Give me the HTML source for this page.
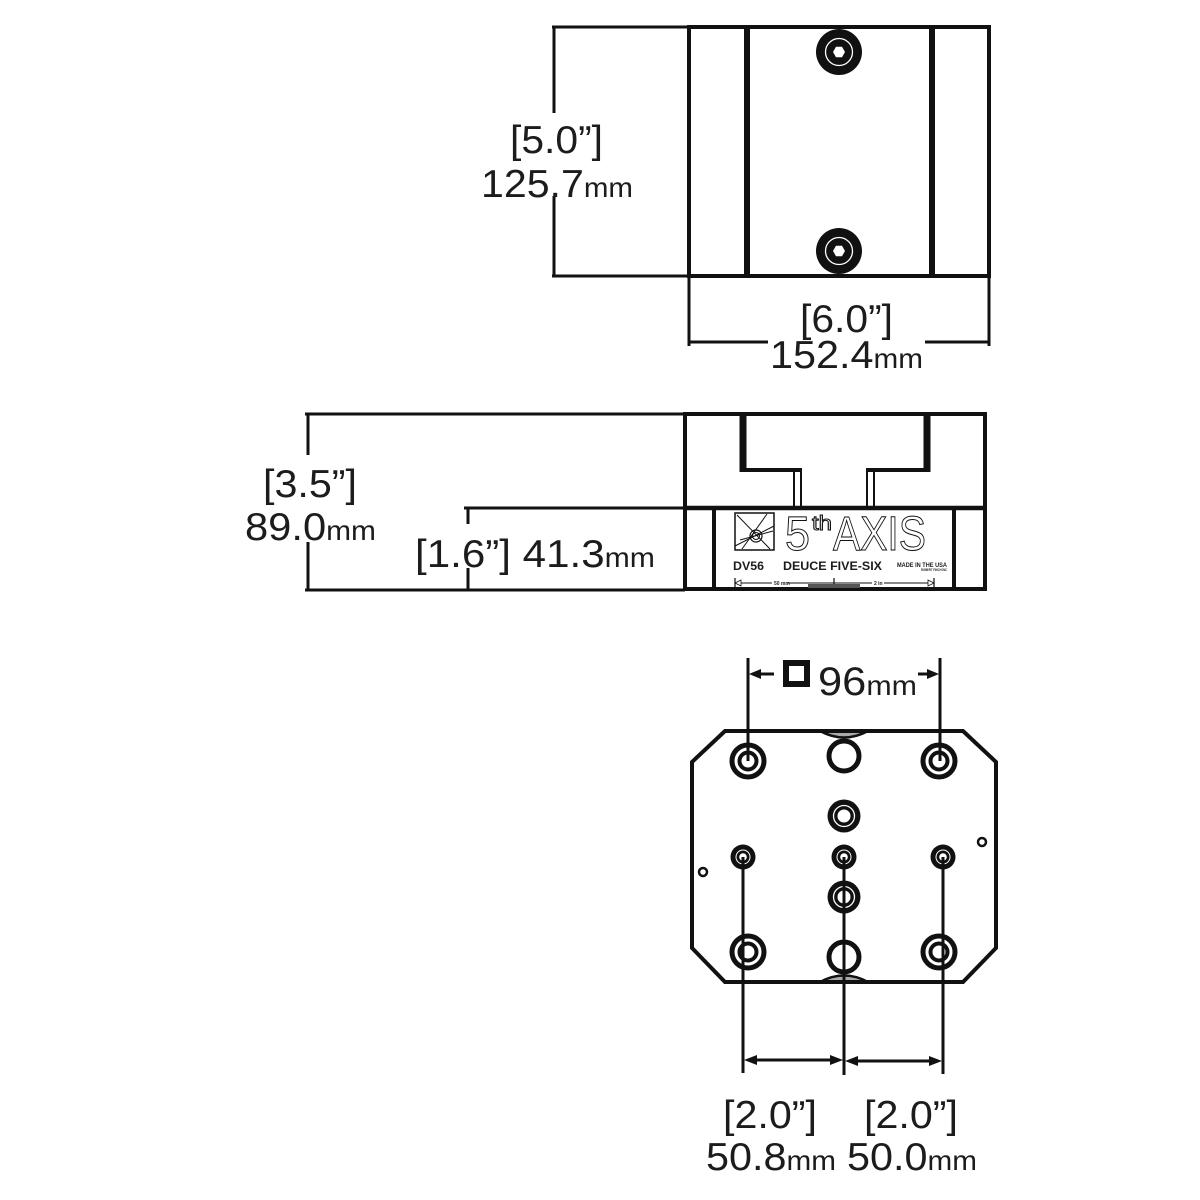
<!DOCTYPE html>
<html><head><meta charset="utf-8"><style>
html,body{margin:0;padding:0;background:#fff;}
svg{display:block;}
text{font-family:"Liberation Sans",sans-serif;fill:#1d1b1c;}
</style></head><body>
<svg width="1200" height="1200" viewBox="0 0 1200 1200" xmlns="http://www.w3.org/2000/svg">
<rect width="1200" height="1200" fill="#fff"/>
<g stroke="#111" fill="none" stroke-linecap="butt">
<!-- ===== TOP VIEW ===== -->
<rect x="689" y="27" width="300" height="249" stroke-width="4"/>
<line x1="747" y1="27" x2="747" y2="276" stroke-width="6"/>
<line x1="932" y1="27" x2="932" y2="276" stroke-width="6"/>
<!-- dim left -->
<line x1="552" y1="27" x2="689" y2="27" stroke-width="3"/>
<line x1="552" y1="276" x2="689" y2="276" stroke-width="3"/>
<line x1="554" y1="27" x2="554" y2="113" stroke-width="3"/>
<line x1="554" y1="196" x2="554" y2="276" stroke-width="3"/>
<!-- dim bottom -->
<line x1="689" y1="276" x2="689" y2="346" stroke-width="3"/>
<line x1="989" y1="276" x2="989" y2="346" stroke-width="3"/>
<line x1="689" y1="342" x2="768" y2="342" stroke-width="3"/>
<line x1="925" y1="342" x2="989" y2="342" stroke-width="3"/>
</g>
<!-- bolts -->
<g>
<circle cx="839" cy="52" r="23" fill="#111"/>
<circle cx="839" cy="52" r="13.5" fill="none" stroke="#fff" stroke-width="1.3"/>
<polygon points="845,52 842,57.2 836,57.2 833,52 836,46.8 842,46.8" fill="#fff"/>
<circle cx="839" cy="251" r="23" fill="#111"/>
<circle cx="839" cy="251" r="13.5" fill="none" stroke="#fff" stroke-width="1.3"/>
<polygon points="845,251 842,256.2 836,256.2 833,251 836,245.8 842,245.8" fill="#fff"/>
</g>
<text x="510" y="153" font-size="39" textLength="93" lengthAdjust="spacingAndGlyphs">[5.0”]</text>
<text x="481" y="197" font-size="39" textLength="152" lengthAdjust="spacingAndGlyphs">125.7<tspan font-size="28">mm</tspan></text>
<text x="800" y="332" font-size="39" textLength="93" lengthAdjust="spacingAndGlyphs">[6.0”]</text>
<text x="770" y="368" font-size="39" textLength="153" lengthAdjust="spacingAndGlyphs">152.4<tspan font-size="28">mm</tspan></text>

<!-- ===== SIDE VIEW ===== -->
<g stroke="#111" fill="none">
<rect x="685" y="414" width="300" height="175" stroke-width="4"/>
<line x1="685" y1="508" x2="985" y2="508" stroke-width="4.5"/>
<line x1="714" y1="508" x2="714" y2="589" stroke-width="4"/>
<line x1="954" y1="508" x2="954" y2="589" stroke-width="4"/>
<!-- T slot -->
<line x1="743" y1="414" x2="743" y2="472" stroke-width="7"/>
<line x1="740" y1="470" x2="801" y2="470" stroke-width="4"/>
<line x1="794" y1="470" x2="794" y2="508" stroke-width="2"/>
<line x1="801" y1="468" x2="801" y2="508" stroke-width="2"/>
<line x1="927" y1="414" x2="927" y2="472" stroke-width="7"/>
<line x1="867" y1="470" x2="930" y2="470" stroke-width="4"/>
<line x1="867" y1="468" x2="867" y2="508" stroke-width="2"/>
<line x1="874" y1="470" x2="874" y2="508" stroke-width="2"/>
<!-- dims -->
<line x1="305" y1="414" x2="685" y2="414" stroke-width="3"/>
<line x1="305" y1="590" x2="685" y2="590" stroke-width="3"/>
<line x1="464" y1="508" x2="685" y2="508" stroke-width="3"/>
<line x1="308" y1="414" x2="308" y2="455" stroke-width="3"/>
<line x1="308" y1="542" x2="308" y2="590" stroke-width="3"/>
<line x1="468" y1="508" x2="468" y2="524" stroke-width="3"/>
<line x1="468" y1="568" x2="468" y2="590" stroke-width="3"/>
<!-- logo box -->
<rect x="735" y="513" width="39" height="37" stroke-width="1.5"/>
<line x1="737" y1="515" x2="770" y2="549" stroke-width="1"/>
<line x1="735" y1="546" x2="774" y2="526" stroke-width="1"/>
<line x1="742" y1="549" x2="767" y2="514" stroke-width="1"/>
<line x1="740" y1="540" x2="773" y2="531" stroke-width="1"/>
<circle cx="756" cy="536" r="6" stroke-width="1.2"/>
<circle cx="756" cy="536" r="3.5" stroke-width="1"/>
<!-- ruler -->
<line x1="736" y1="583" x2="934" y2="583" stroke-width="1"/>
<line x1="735" y1="578" x2="735" y2="588" stroke-width="1.2"/>
<line x1="834" y1="578" x2="834" y2="588" stroke-width="1.2"/>
<line x1="934" y1="578" x2="934" y2="588" stroke-width="1.2"/>
</g>
<path d="M735,583 l6,-3 v6 z M934,583 l-6,-3 v6 z" fill="#fff" stroke="#111" stroke-width="0.8"/>
<rect x="808" y="584" width="52" height="4" fill="#555"/>
<rect x="772" y="580" width="16" height="5" fill="#fff"/>
<rect x="872" y="580" width="12" height="5" fill="#fff"/>
<text x="774" y="585" font-size="5" font-weight="bold">50 mm</text>
<text x="874" y="585" font-size="5" font-weight="bold">2 in</text>
<text x="785" y="550" font-size="48" textLength="25" lengthAdjust="spacingAndGlyphs" style="fill:#fff;stroke:#111;stroke-width:1">5</text>
<text x="812" y="530" font-size="20" textLength="20" lengthAdjust="spacingAndGlyphs" style="fill:#fff;stroke:#111;stroke-width:1">th</text>
<text x="833" y="550" font-size="48" textLength="93" lengthAdjust="spacingAndGlyphs" style="fill:#fff;stroke:#111;stroke-width:1">AXIS</text>
<text x="733" y="570" font-size="12" font-weight="bold" textLength="31" lengthAdjust="spacingAndGlyphs">DV56</text>
<text x="783" y="570" font-size="12" font-weight="bold" textLength="99" lengthAdjust="spacingAndGlyphs">DEUCE FIVE-SIX</text>
<text x="897" y="567" font-size="6" font-weight="bold" textLength="50" lengthAdjust="spacingAndGlyphs">MADE IN THE USA</text>
<text x="921" y="571" font-size="3.5" font-weight="bold" textLength="26" lengthAdjust="spacingAndGlyphs">ROBERT FINCH INC</text>

<text x="263" y="497" font-size="39" textLength="94" lengthAdjust="spacingAndGlyphs">[3.5”]</text>
<text x="245" y="540" font-size="39" textLength="131" lengthAdjust="spacingAndGlyphs">89.0<tspan font-size="28">mm</tspan></text>
<text x="415" y="567" font-size="39" textLength="240" lengthAdjust="spacingAndGlyphs">[1.6”] 41.3<tspan font-size="28">mm</tspan></text>

<!-- ===== BOTTOM VIEW ===== -->
<g stroke="#111" fill="none">
<path d="M820,731 Q844,744 868,731" fill="#aaa" stroke-width="2.5"/>
<path d="M820,982 Q844,969 868,982" fill="#aaa" stroke-width="2.5"/>
<polygon points="725,731 963,731 996,762 996,948 963,982 725,982 692,948 692,762" stroke-width="4" stroke-linejoin="miter"/>
<!-- counterbores -->
<circle cx="748" cy="761" r="16" stroke-width="5"/>
<circle cx="748" cy="761" r="8.5" stroke-width="4"/>
<circle cx="939" cy="761" r="16" stroke-width="5"/>
<circle cx="939" cy="761" r="8.5" stroke-width="4"/>
<circle cx="748" cy="952" r="16" stroke-width="5"/>
<circle cx="748" cy="952" r="8.5" stroke-width="4"/>
<circle cx="939" cy="952" r="16" stroke-width="5"/>
<circle cx="939" cy="952" r="8.5" stroke-width="4"/>
<!-- plain rings -->
<circle cx="844" cy="756" r="15" stroke-width="5" fill="#fff"/>
<circle cx="844" cy="957" r="15" stroke-width="5" fill="#fff"/>
<!-- tiny -->
<circle cx="982" cy="842" r="4" stroke-width="2.5"/>
<circle cx="703" cy="872" r="4" stroke-width="2.5"/>
</g>
<g>
<circle cx="844" cy="816" r="16.5" fill="#111"/>
<circle cx="844" cy="816" r="10.5" fill="none" stroke="#fff" stroke-width="1.3"/>
<circle cx="844" cy="816" r="6.5" fill="#fff"/>
<circle cx="844" cy="897" r="16.5" fill="#111"/>
<circle cx="844" cy="897" r="10.5" fill="none" stroke="#fff" stroke-width="1.3"/>
<circle cx="844" cy="897" r="6.5" fill="#fff"/>
<circle cx="743" cy="857" r="12.5" fill="#111"/>
<circle cx="743" cy="857" r="7" fill="none" stroke="#fff" stroke-width="1"/>
<circle cx="743" cy="857" r="3.8" fill="#fff"/>
<circle cx="844" cy="857" r="12.5" fill="#111"/>
<circle cx="844" cy="857" r="7" fill="none" stroke="#fff" stroke-width="1"/>
<circle cx="844" cy="857" r="3.8" fill="#fff"/>
<circle cx="943" cy="857" r="12.5" fill="#111"/>
<circle cx="943" cy="857" r="7" fill="none" stroke="#fff" stroke-width="1"/>
<circle cx="943" cy="857" r="3.8" fill="#fff"/>
</g>
<g stroke="#111" fill="none" stroke-width="3">
<!-- 96 dims -->
<line x1="748" y1="658" x2="748" y2="761"/>
<line x1="940" y1="658" x2="940" y2="761"/>
<line x1="752" y1="674" x2="774" y2="674"/>
<line x1="918" y1="674" x2="936" y2="674"/>
<rect x="786" y="663" width="21" height="21" stroke-width="6"/>
<!-- bottom ext lines -->
<line x1="743" y1="857" x2="743" y2="1073"/>
<line x1="844" y1="857" x2="844" y2="1075"/>
<line x1="943" y1="857" x2="943" y2="1074"/>
<line x1="755" y1="1060" x2="832" y2="1060"/>
<line x1="856" y1="1061" x2="931" y2="1061"/>
</g>
<g fill="#111">
<path d="M749,674 l12,-5 v10 z"/>
<path d="M939,674 l-12,-5 v10 z"/>
<path d="M744,1060 l13,-5 v10 z"/>
<path d="M843,1060 l-13,-5 v10 z"/>
<path d="M845,1061 l13,-5 v10 z"/>
<path d="M942,1061 l-13,-5 v10 z"/>
</g>
<text x="818" y="695" font-size="40" textLength="99" lengthAdjust="spacingAndGlyphs">96<tspan font-size="28">mm</tspan></text>
<text x="723" y="1128" font-size="39" textLength="94" lengthAdjust="spacingAndGlyphs">[2.0”]</text>
<text x="864" y="1128" font-size="39" textLength="94" lengthAdjust="spacingAndGlyphs">[2.0”]</text>
<text x="706" y="1170" font-size="39" textLength="130" lengthAdjust="spacingAndGlyphs">50.8<tspan font-size="28">mm</tspan></text>
<text x="847" y="1170" font-size="39" textLength="130" lengthAdjust="spacingAndGlyphs">50.0<tspan font-size="28">mm</tspan></text>
</svg>
</body></html>
